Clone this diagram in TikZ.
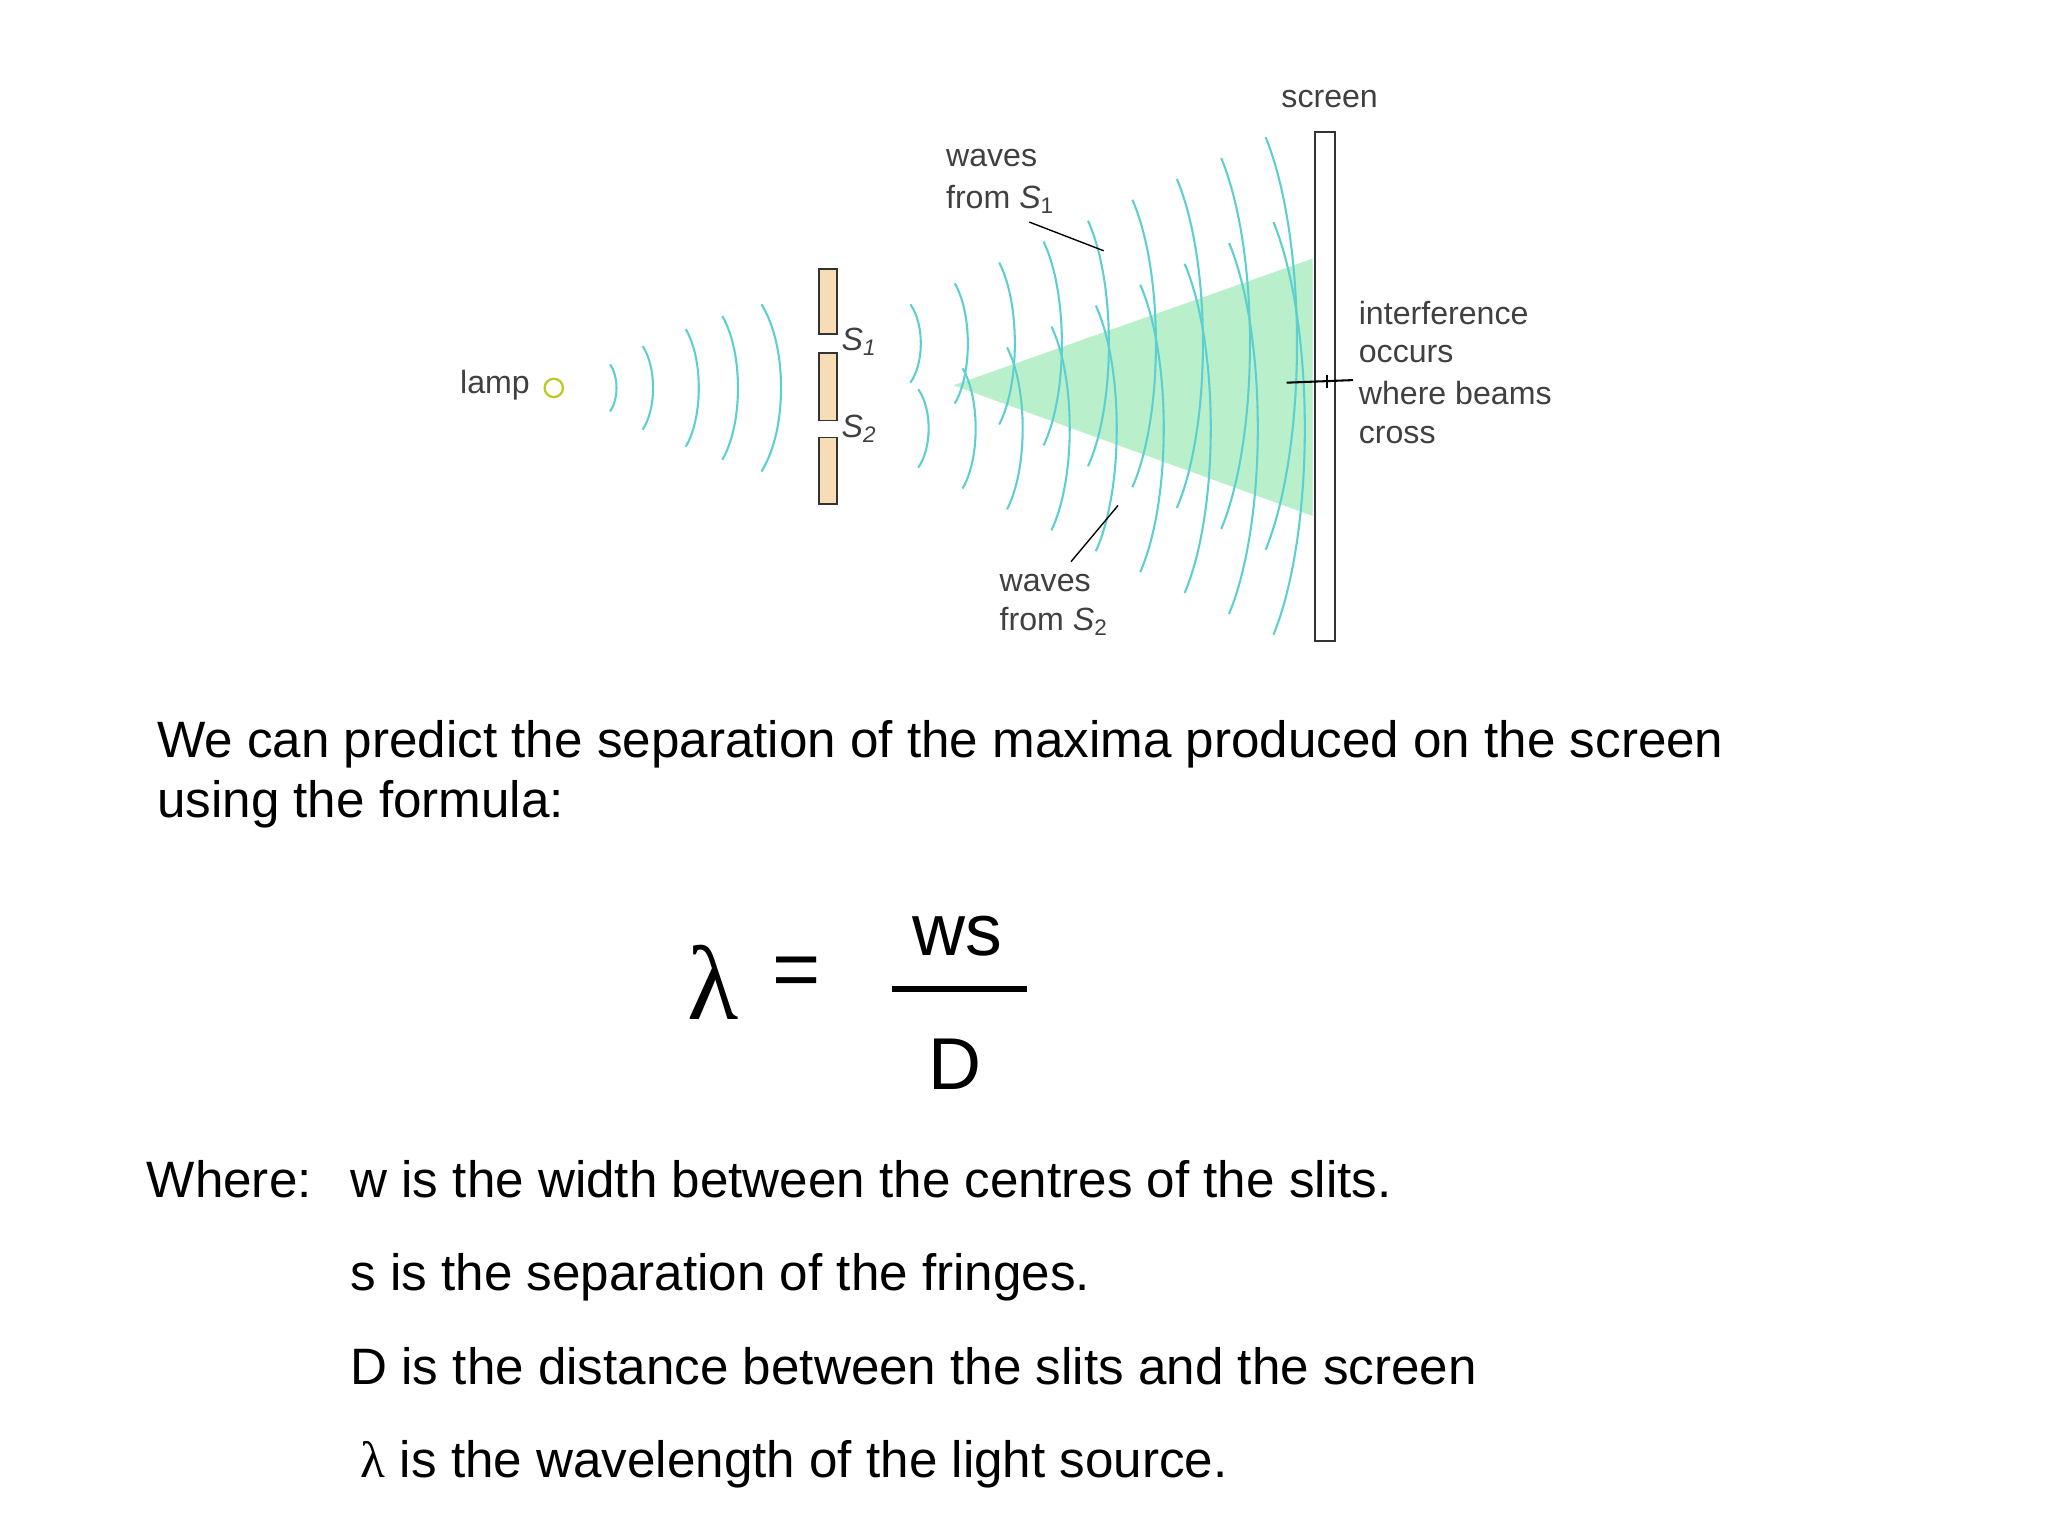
\documentclass[tikz,border=0pt]{standalone}
\usepackage{fontspec}
\setmainfont{Liberation Sans}
\newfontfamily\lamfont{Liberation Serif}
\begin{document}
\begin{tikzpicture}[x=0.02cm,y=-0.02cm,
  wave/.style={draw=wavec,line width=0.9pt},
  lbl/.style={font=\fontsize{14}{16}\selectfont,text=black!75,inner sep=0pt,anchor=west},
  lead/.style={draw=black,line width=0.6pt},
  body/.style={font=\fontsize{22.3}{26}\selectfont,inner sep=0pt,anchor=base west}]
\definecolor{wavec}{HTML}{5CCFD0}
\definecolor{tan}{HTML}{F7DDB5}
\definecolor{beam}{HTML}{A9EBBE}
\useasboundingbox (0,0) rectangle (1568,1176);
\fill[white] (0,0) rectangle (1568,1176);
% green beam
\fill[beam,opacity=0.8] (730,295) -- (1005,198) -- (1005,395) -- cycle;
% lamp waves
\foreach \xx/\h/\s in {472/18/5,500/32/8,535/45/10,565/55/12,598/64/15}
  \draw[wave] ({\xx-\s},{297-\h}) .. controls ({\xx+\s/3},{297-\h/2}) and ({\xx+\s/3},{297+\h/2}) .. ({\xx-\s},{297+\h});
% slit waves
\foreach \k in {0,...,8}{
  \pgfmathsetmacro{\xx}{705+36*\k}
  \pgfmathsetmacro{\h}{30+16*\k}
  \pgfmathsetmacro{\s}{8+2*\k}
  \foreach \yc/\dx in {263/0,328/6}{
    \draw[wave] ({\xx+\dx-\s},{\yc-\h}) .. controls ({\xx+\dx+\s/3},{\yc-\h/2}) and ({\xx+\dx+\s/3},{\yc+\h/2}) .. ({\xx+\dx-\s},{\yc+\h});
  }
}
% slits
\foreach \n/\ya/\yb in {b1/206/256,b2/270/322,b3/335/386}
  \draw[fill=tan,draw=black!80,line width=0.8pt] (627,\ya) rectangle (641,\yb);
\node[lbl,font=\fontsize{14}{16}\selectfont\itshape] (s1) at (644,262) {S\textsubscript{1}};
\node[lbl,font=\fontsize{14}{16}\selectfont\itshape] (s2) at (644,328) {S\textsubscript{2}};
% lamp
\node[lbl] (lamp) at (352,295) {lamp};
\node[circle,draw={rgb,255:red,190;green,200;blue,40},line width=1pt,minimum size=8pt,inner sep=0pt] (bulb) at (424,297) {};
% screen
\draw[fill=white,draw=black!80,line width=0.9pt] (1007,101) rectangle (1022,491);
\node[lbl,anchor=center] (scr) at (1018,76) {screen};
% labels
\node[lbl,anchor=west] (w1a) at (724,121) {waves};
\node[lbl,anchor=west] (w1b) at (724,153) {from \textit{S}\textsubscript{1}};
\coordinate (w1s) at (788,170); \coordinate (w1e) at (845,192);
\draw[lead] (w1s) -- (w1e);
\node[lbl,anchor=west] (w2a) at (765,446) {waves};
\node[lbl,anchor=west] (w2b) at (765,476) {from \textit{S}\textsubscript{2}};
\coordinate (w2s) at (820,430); \coordinate (w2e) at (856,387);
\draw[lead] (w2s) -- (w2e);
\node[lbl] (i1) at (1040,240) {interference};
\node[lbl] (i2) at (1040,271) {occurs};
\node[lbl] (i3) at (1040,301) {where beams};
\node[lbl] (i4) at (1040,333) {cross};
\coordinate (ia) at (985,293); \coordinate (ib) at (1036,291);
\draw[lead,line width=0.9pt] (ia) -- (ib);
\coordinate (ta) at (1016,287); \coordinate (tb) at (1016,297);
\draw[lead,line width=0.9pt] (ta) -- (tb);
% text
\node[body] (p1) at (120,580) {We can predict the separation of the maxima produced on the screen};
\node[body] (p2) at (120,626) {using the formula:};
\node[font=\fontsize{46}{50}\selectfont\lamfont,inner sep=0pt] (lam) at (546,752) {λ};
\node[font=\fontsize{36}{40}\selectfont,inner sep=0pt] (eq) at (610,748) {=};
\node[font=\fontsize{32}{36}\selectfont,inner sep=0pt] (ws) at (733,717) {ws};
\node[font=\fontsize{32}{36}\selectfont,inner sep=0pt] (dd) at (731,815) {D};
\draw[line width=2.6pt] (683,757) -- (786,757);
\node[body] (wh) at (112,917) {Where:};
\node[body] (l1) at (268,917) {w is the width between the centres of the slits.};
\node[body] (l2) at (268,988) {s is the separation of the fringes.};
\node[body] (l3) at (268,1060) {D is the distance between the slits and the screen};
\node[body] (l4) at (276,1131) {{\lamfont λ} is the wavelength of the light source.};
\end{tikzpicture}
\end{document}
